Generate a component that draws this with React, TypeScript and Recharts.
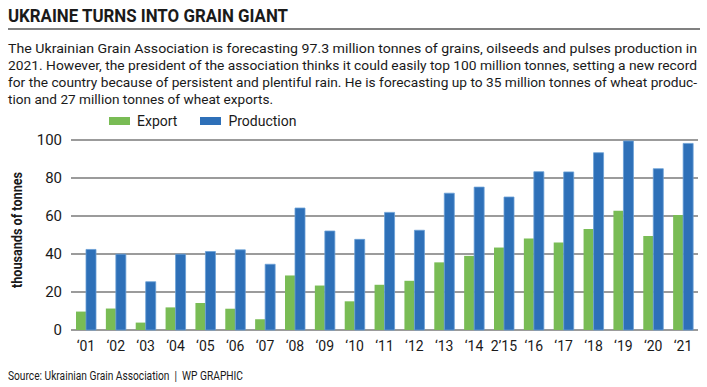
import { Bar, BarChart, CartesianGrid, Legend, XAxis, YAxis } from "recharts";

const years = [
  "‘01", "‘02", "‘03", "‘04", "‘05", "‘06", "‘07", "‘08", "‘09", "‘10", "‘11",
  "‘12", "‘13", "‘14", "2’15", "‘16", "‘17", "‘18", "‘19", "‘20", "‘21",
];
const exportValues = [
  9.7, 11.3, 3.9, 11.9, 14.2, 11.2, 5.7, 28.7, 23.4, 15.1, 23.8, 25.9, 35.6,
  39.0, 43.4, 48.2, 46.1, 53.2, 62.8, 49.5, 60.5,
];
const productionValues = [
  42.4, 39.9, 25.4, 39.9, 41.3, 42.2, 34.6, 64.2, 52.1, 47.7, 61.9, 52.5, 72.0,
  75.2, 70.0, 83.3, 83.2, 93.3, 99.5, 84.9, 98.2,
];
const yTicks = [0, 20, 40, 60, 80, 100];

const introLines = [
  "The Ukrainian Grain Association is forecasting 97.3 million tonnes of grains, oilseeds and pulses production in",
  "2021. However, the president of the association thinks it could easily top 100 million tonnes, setting a new record",
  "for the country because of persistent and plentiful rain. He is forecasting up to 35 million tonnes of wheat produc-",
  "tion and 27 million tonnes of wheat exports.",
];
// widths of each intro line in the original layout
const introWidths = [689, 689, 689, 265];

const data = years.map((year, i) => ({
  year,
  export: exportValues[i],
  production: productionValues[i],
}));

const FONT = 'Roboto, "Open Sans", sans-serif';
const GREEN = "#79bc55";
const BLUE = "#2e70b8";
const INK = "#1a1a1a";

export default function App() {
  return (
    <div
      style={{
        position: "absolute",
        left: 0,
        top: 0,
        width: 707,
        height: 387,
        background: "#fff",
        fontFamily: FONT,
        color: INK,
        overflow: "hidden",
      }}
    >
      <svg
        width={707}
        height={387}
        style={{ position: "absolute", left: 0, top: 0 }}
        fontFamily={FONT}
        fill={INK}
      >
        <text
          x={8}
          y={22}
          fontSize={18}
          fontWeight={700}
          textLength={280}
          lengthAdjust="spacingAndGlyphs"
        >
          UKRAINE TURNS INTO GRAIN GIANT
        </text>
        <rect x={8} y={28} width={692} height={2} fill="#808080" />
        {introLines.map((line, i) => (
          <text
            key={i}
            x={8}
            y={53 + i * 17}
            fontSize={13.5}
            textLength={introWidths[i]}
            lengthAdjust="spacingAndGlyphs"
          >
            {line}
          </text>
        ))}
        <text
          transform="translate(22 230) rotate(-90)"
          textAnchor="middle"
          fontSize={14}
          fontWeight={700}
          textLength={116}
          lengthAdjust="spacingAndGlyphs"
        >
          thousands of tonnes
        </text>
        <text
          x={8}
          y={380}
          fontSize={12}
          textLength={235}
          lengthAdjust="spacingAndGlyphs"
          style={{ whiteSpace: "pre" }}
        >
          {"Source: Ukrainian Grain Association  |  WP GRAPHIC"}
        </text>
      </svg>

      <div style={{ position: "absolute", left: 0, top: 108 }}>
        <BarChart
          width={707}
          height={252}
          data={data}
          margin={{ top: 16, right: 9, left: 31, bottom: 0 }}
          barGap={0}
          barSize={10}
        >
          <CartesianGrid vertical={false} stroke="#7a7a7a" strokeWidth={1.5} />
          <XAxis
            dataKey="year"
            axisLine={false}
            tickLine={false}
            tickSize={0}
            tickMargin={11}
            height={30}
            interval={0}
            tick={{ fill: INK, fontSize: 14, fontFamily: FONT }}
          />
          <YAxis
            domain={[0, 100]}
            ticks={yTicks}
            axisLine={false}
            tickLine={false}
            tickSize={0}
            tickMargin={9}
            width={40}
            tick={{ fill: INK, fontSize: 15, fontFamily: FONT }}
          />
          <Legend
            verticalAlign="top"
            align="left"
            wrapperStyle={{ top: 5, left: 109, width: 300 }}
            content={() => (
              <div
                style={{
                  display: "flex",
                  alignItems: "center",
                  fontSize: 14,
                  fontFamily: FONT,
                  whiteSpace: "nowrap",
                  color: INK,
                }}
              >
                <span style={{ width: 21, height: 8, background: GREEN, display: "inline-block" }} />
                <span style={{ marginLeft: 7, marginRight: 23 }}>Export</span>
                <span style={{ width: 21, height: 8, background: BLUE, display: "inline-block" }} />
                <span style={{ marginLeft: 7 }}>Production</span>
              </div>
            )}
          />
          <Bar dataKey="export" name="Export" fill={GREEN} isAnimationActive={false} />
          <Bar
            dataKey="production"
            name="Production"
            fill={BLUE}
            stroke="#6a9fd6"
            strokeWidth={0.8}
            isAnimationActive={false}
          />
        </BarChart>
      </div>
    </div>
  );
}
